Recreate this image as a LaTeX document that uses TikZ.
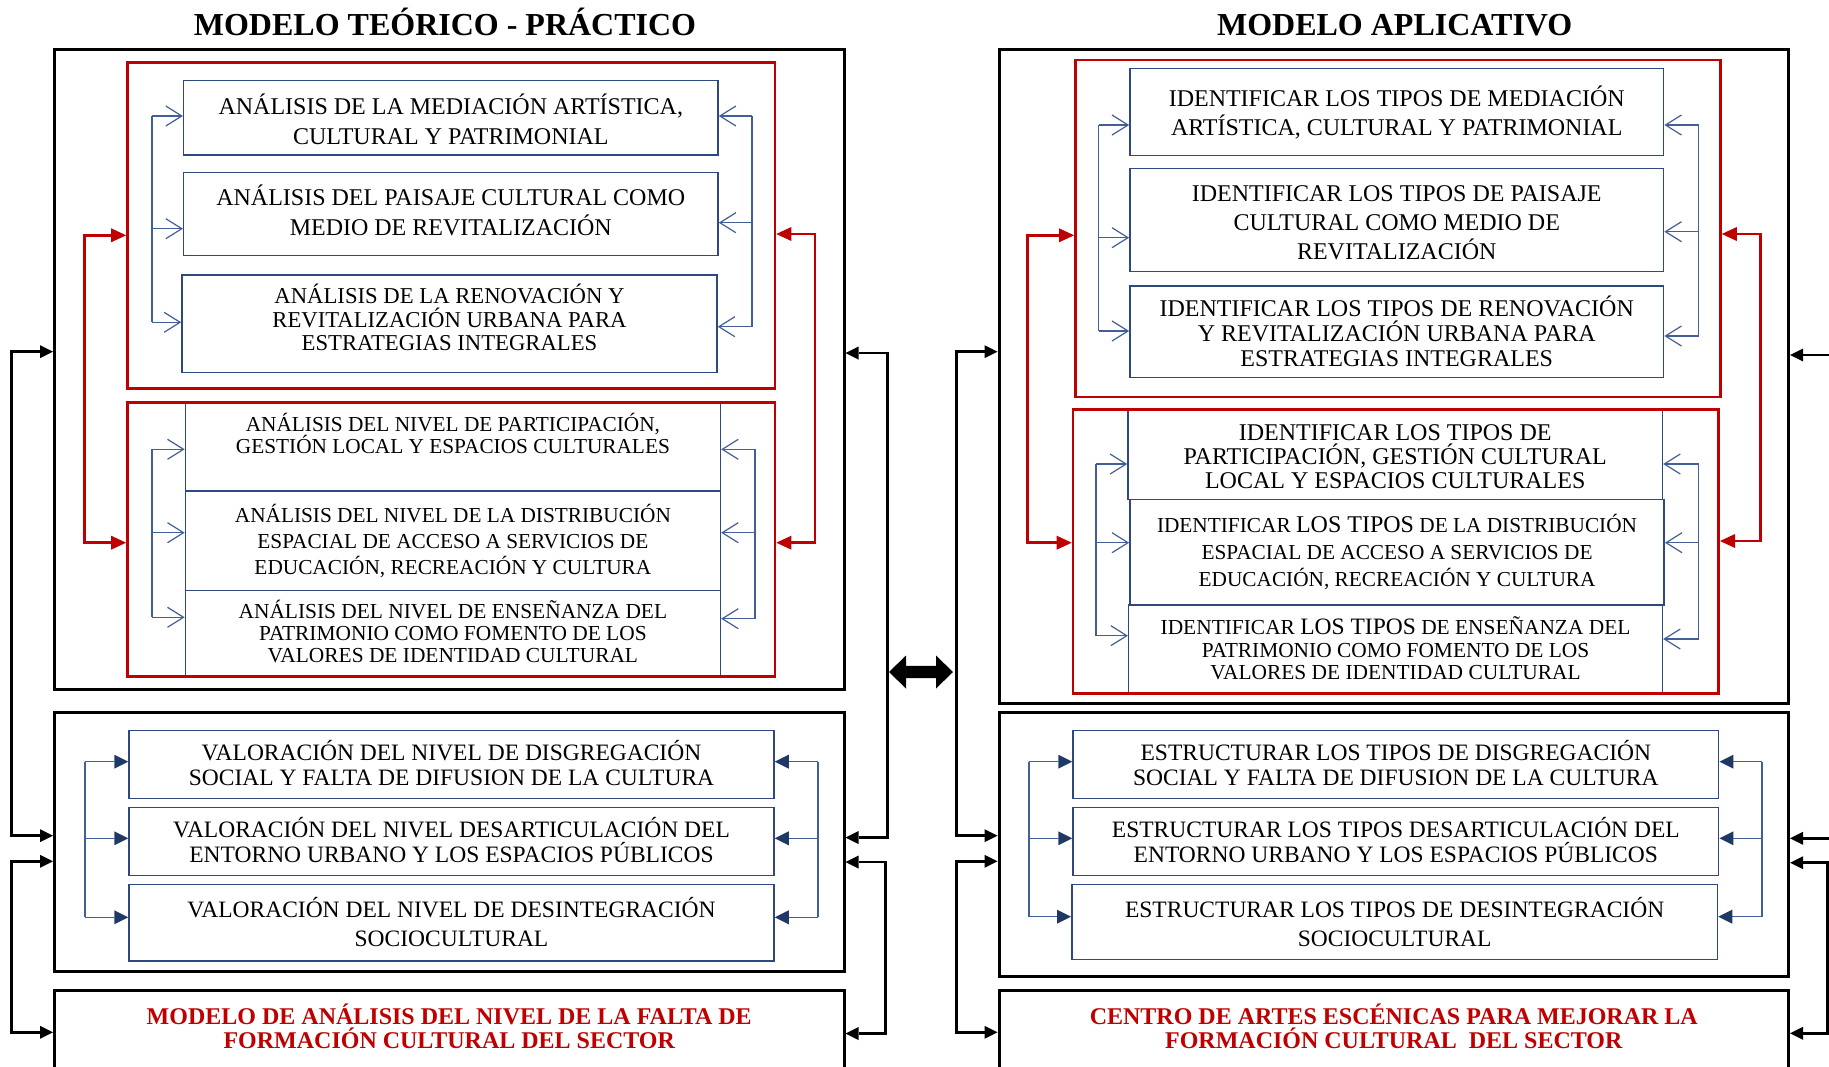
\documentclass[tikz,border=0pt]{standalone}
\usepackage{fontspec}
\setmainfont{Liberation Serif}
\usetikzlibrary{arrows.meta}
\definecolor{myred}{RGB}{192,0,0}
\definecolor{navy}{RGB}{31,56,100}
\definecolor{boxblue}{RGB}{47,72,128}
\definecolor{busblue}{RGB}{68,95,152}
\newcommand\myfs[2]{\fontsize{#1}{#2}\selectfont}
\begin{document}
\begin{tikzpicture}[x=1pt,y=-1pt,
  obox/.style={draw=black,line width=3pt,inner sep=0pt},
  rbox/.style={draw=myred,line width=2.6pt,inner sep=0pt},
  bbox/.style={draw=boxblue,line width=1.5pt,inner sep=0pt},
  txt/.style={inner sep=0pt,align=center},
  bus/.style={draw=busblue,line width=1.2pt},
  oarr/.style={draw=busblue,line width=1.2pt,-{Straight Barb[length=16pt,width=20pt]}},
  farr/.style={draw=busblue,line width=1.2pt,-{Triangle[length=14pt,width=14pt,line width=0pt,color=navy]}},
  rcon/.style={draw=myred,line width=2.6pt,{Triangle[length=15pt,width=14pt,line width=0pt]}-{Triangle[length=15pt,width=14pt,line width=0pt]}},
  kcon/.style={draw=black,line width=2.7pt,{Triangle[length=13pt,width=13pt,line width=0pt]}-{Triangle[length=13pt,width=13pt,line width=0pt]}},
]
\useasboundingbox (0,0) rectangle (1829,1066);
\fill[white] (0,0) rectangle (1829,1066);
\clip (0,0) rectangle (1829,1066);

% ---------------- titles
\node[txt,font=\bfseries\myfs{32}{36}] (T1) at (445,21.7) {MODELO TEÓRICO - PRÁCTICO};
\node[txt,font=\bfseries\myfs{32}{36}] (T2) at (1394.7,25.5) {MODELO APLICATIVO};

% ================= LEFT PANEL
\node[obox,minimum width=789.5pt,minimum height=639.7pt] (OB1) at (449.25,369.15) {};
\node[obox,minimum width=789.5pt,minimum height=259pt] (OB2) at (449.25,842.2) {};
\node[obox,minimum width=789.5pt,minimum height=80pt] (OB3) at (449.25,1030) {};

\node[bbox,minimum width=534.3pt,minimum height=74.3pt] (A1) at (450.85,117.85) {};
\node[bbox,minimum width=534.3pt,minimum height=82.6pt] (A2) at (450.85,214) {};
\node[bbox,minimum width=535pt,minimum height=97.7pt] (A3) at (449.5,323.85) {};
\node[bbox,minimum width=535pt,minimum height=88pt] (B1) at (452.9,447) {};
\node[bbox,minimum width=535pt,minimum height=99.7pt] (B2) at (452.9,540.85) {};
\node[bbox,minimum width=535pt,minimum height=86pt] (B3) at (452.9,633.7) {};
\node[rbox,minimum width=647.6pt,minimum height=326pt] (RB1) at (451.2,225.3) {};
\node[rbox,minimum width=647.6pt,minimum height=274pt] (RB2) at (451.2,539.7) {};
\node[bbox,minimum width=645pt,minimum height=68pt] (C1) at (451.5,764.3) {};
\node[bbox,minimum width=645pt,minimum height=68pt] (C2) at (451.5,841.7) {};
\node[bbox,minimum width=645pt,minimum height=76.7pt] (C3) at (451.5,922.65) {};

\node[txt,font=\myfs{24}{30}] (A1t) at (450.8,119) {ANÁLISIS DE LA MEDIACIÓN ARTÍSTICA,\\CULTURAL Y PATRIMONIAL};
\node[txt,font=\myfs{24}{30}] (A2t) at (450.8,210.6) {ANÁLISIS DEL PAISAJE CULTURAL COMO\\MEDIO DE REVITALIZACIÓN};
\node[txt,font=\myfs{22.7}{23.3}] (A3t) at (449.5,317.4) {ANÁLISIS DE LA RENOVACIÓN Y\\REVITALIZACIÓN URBANA PARA\\ESTRATEGIAS INTEGRALES};
\node[txt,font=\myfs{21.3}{21.7}] (B1t) at (452.9,433.4) {ANÁLISIS DEL NIVEL DE PARTICIPACIÓN,\\GESTIÓN LOCAL Y ESPACIOS CULTURALES};
\node[txt,font=\myfs{21.3}{26.1}] (B2t) at (452.9,541) {ANÁLISIS DEL NIVEL DE LA DISTRIBUCIÓN\\ESPACIAL DE ACCESO A SERVICIOS DE\\EDUCACIÓN, RECREACIÓN Y CULTURA};
\node[txt,font=\myfs{21.4}{21.9}] (B3t) at (452.9,631.6) {ANÁLISIS DEL NIVEL DE ENSEÑANZA DEL\\PATRIMONIO COMO FOMENTO DE LOS\\VALORES DE IDENTIDAD CULTURAL};
\node[txt,font=\myfs{23.5}{25}] (C1t) at (451.5,763.1) {VALORACIÓN DEL NIVEL DE DISGREGACIÓN\\SOCIAL Y FALTA DE DIFUSION DE LA CULTURA};
\node[txt,font=\myfs{23.5}{25}] (C2t) at (451.5,839.8) {VALORACIÓN DEL NIVEL DESARTICULACIÓN DEL\\ENTORNO URBANO Y LOS ESPACIOS PÚBLICOS};
\node[txt,font=\myfs{23.5}{29.3}] (C3t) at (451.5,922) {VALORACIÓN DEL NIVEL DE DESINTEGRACIÓN\\SOCIOCULTURAL};
\node[txt,font=\bfseries\myfs{24}{24},text=myred] (M1) at (449.25,1026) {MODELO DE ANÁLISIS DEL NIVEL DE LA FALTA DE\\FORMACIÓN CULTURAL DEL SECTOR};

% blue buses, left panel
\coordinate (aL1) at (152,116); \coordinate (aL2) at (152,228.7); \coordinate (aL3) at (152,322.3);
\coordinate (aR1) at (752,116); \coordinate (aR2) at (752,222.7); \coordinate (aR3) at (752,326.7);
\draw[bus] (aL1) -- (aL3); \draw[bus] (aR1) -- (aR3);
\foreach \i in {1,2,3} {\draw[oarr] (aL\i) -- (aL\i -| A\i.west); \draw[oarr] (aR\i) -- (aR\i -| A\i.east);}
\coordinate (bL1) at (152,449.3); \coordinate (bL2) at (152,532.7); \coordinate (bL3) at (152,617.3);
\coordinate (bR1) at (755,449.3); \coordinate (bR2) at (755,532.7); \coordinate (bR3) at (755,618.7);
\draw[bus] (bL1) -- (bL3); \draw[bus] (bR1) -- (bR3);
\foreach \i in {1,2,3} {\draw[oarr] (bL\i) -- (bL\i -| B\i.west); \draw[oarr] (bR\i) -- (bR\i -| B\i.east);}
\coordinate (cL1) at (85,761.7); \coordinate (cL2) at (85,838.3); \coordinate (cL3) at (85,917.3);
\coordinate (cR1) at (818,761.7); \coordinate (cR2) at (818,838.3); \coordinate (cR3) at (818,917.3);
\draw[bus] (cL1) -- (cL3); \draw[bus] (cR1) -- (cR3);
\foreach \i in {1,2,3} {\draw[farr] (cL\i) -- (cL\i -| C\i.west); \draw[farr] (cR\i) -- (cR\i -| C\i.east);}

% red connectors, left panel
\coordinate (rL1) at (84.4,235.3); \coordinate (rL2) at (84.4,542.7);
\coordinate (rR1) at (815,234); \coordinate (rR2) at (815,542.7);
\draw[rcon] (rL1 -| RB1.west) -- (rL1) -- (rL2) -- (rL2 -| RB2.west);
\draw[rcon] (rR1 -| RB1.east) -- (rR1) -- (rR2) -- (rR2 -| RB2.east);

% ================= RIGHT PANEL
\node[obox,minimum width=789.6pt,minimum height=653.7pt] (OB1R) at (1393.8,376.15) {};
\node[obox,minimum width=789.6pt,minimum height=263.3pt] (OB2R) at (1393.8,844.35) {};
\node[obox,minimum width=789.6pt,minimum height=80pt] (OB3R) at (1393.8,1030) {};

\node[bbox,minimum width=533.7pt,minimum height=87.4pt] (D1) at (1396.75,112) {};
\node[bbox,minimum width=533.7pt,minimum height=103.4pt] (D2) at (1396.75,220) {};
\node[bbox,minimum width=533.7pt,minimum height=91.7pt] (D3) at (1396.75,331.85) {};
\node[bbox,minimum width=534.4pt,minimum height=89.3pt] (E1) at (1395.2,454.65) {};
\node[bbox,minimum width=534.3pt,minimum height=105.7pt] (E2) at (1397.05,552.15) {};
\node[bbox,minimum width=533.7pt,minimum height=88.3pt] (E3) at (1395.55,649.15) {};
\node[rbox,minimum width=645.1pt,minimum height=337pt] (RR1) at (1397.95,228.5) {};
\node[rbox,minimum width=645.7pt,minimum height=284pt] (RR2) at (1395.85,551.3) {};
\node[bbox,minimum width=645.7pt,minimum height=68pt] (F1) at (1395.85,764.3) {};
\node[bbox,minimum width=645.7pt,minimum height=68pt] (F2) at (1395.85,841.7) {};
\node[bbox,minimum width=645.7pt,minimum height=75pt] (F3) at (1394.65,921.8) {};

\node[txt,font=\myfs{24}{29}] (D1t) at (1396.75,112.2) {IDENTIFICAR LOS TIPOS DE MEDIACIÓN\\ARTÍSTICA, CULTURAL Y PATRIMONIAL};
\node[txt,font=\myfs{24}{29.2}] (D2t) at (1396.75,222.5) {IDENTIFICAR LOS TIPOS DE PAISAJE\\CULTURAL COMO MEDIO DE\\REVITALIZACIÓN};
\node[txt,font=\myfs{24}{25}] (D3t) at (1396.75,331.6) {IDENTIFICAR LOS TIPOS DE RENOVACIÓN\\Y REVITALIZACIÓN URBANA PARA\\ESTRATEGIAS INTEGRALES};
\node[txt,font=\myfs{24}{24.2}] (E1t) at (1395.2,456.8) {IDENTIFICAR LOS TIPOS DE\\PARTICIPACIÓN, GESTIÓN CULTURAL\\LOCAL Y ESPACIOS CULTURALES};
\node[txt,font=\myfs{21.3}{27}] (E2t) at (1397.05,552) {IDENTIFICAR {\myfs{24}{27}LOS TIPOS} DE LA DISTRIBUCIÓN\\ESPACIAL DE ACCESO A SERVICIOS DE\\EDUCACIÓN, RECREACIÓN Y CULTURA};
\node[txt,font=\myfs{21.4}{22.6}] (E3t) at (1395.55,648.4) {IDENTIFICAR {\myfs{23.5}{22.6}LOS TIPOS} DE ENSEÑANZA DEL\\PATRIMONIO COMO FOMENTO DE LOS\\VALORES DE IDENTIDAD CULTURAL};
\node[txt,font=\myfs{23.5}{25}] (F1t) at (1395.85,763.1) {ESTRUCTURAR LOS TIPOS DE DISGREGACIÓN\\SOCIAL Y FALTA DE DIFUSION DE LA CULTURA};
\node[txt,font=\myfs{23.5}{25}] (F2t) at (1395.85,839.8) {ESTRUCTURAR LOS TIPOS DESARTICULACIÓN DEL\\ENTORNO URBANO Y LOS ESPACIOS PÚBLICOS};
\node[txt,font=\myfs{23.5}{29.3}] (F3t) at (1394.65,922) {ESTRUCTURAR LOS TIPOS DE DESINTEGRACIÓN\\SOCIOCULTURAL};
\node[txt,font=\bfseries\myfs{24}{24},text=myred] (M2) at (1393.8,1026) {CENTRO DE ARTES ESCÉNICAS PARA MEJORAR LA\\FORMACIÓN CULTURAL\ \ DEL SECTOR};

% blue buses, right panel
\coordinate (dL1) at (1098.5,125); \coordinate (dL2) at (1098.5,237.7); \coordinate (dL3) at (1098.5,331);
\coordinate (dR1) at (1698.6,125); \coordinate (dR2) at (1698.6,231.7); \coordinate (dR3) at (1698.6,336);
\draw[bus] (dL1) -- (dL3); \draw[bus] (dR1) -- (dR3);
\foreach \i in {1,2,3} {\draw[oarr] (dL\i) -- (dL\i -| D\i.west); \draw[oarr] (dR\i) -- (dR\i -| D\i.east);}
\coordinate (eL1) at (1096,464); \coordinate (eL2) at (1096,542.7); \coordinate (eL3) at (1096,635.7);
\coordinate (eR1) at (1698.6,464); \coordinate (eR2) at (1698.6,542.7); \coordinate (eR3) at (1698.6,639);
\draw[bus] (eL1) -- (eL3); \draw[bus] (eR1) -- (eR3);
\foreach \i in {1,2,3} {\draw[oarr] (eL\i) -- (eL\i -| E\i.west); \draw[oarr] (eR\i) -- (eR\i -| E\i.east);}
\coordinate (fL1) at (1029,761.7); \coordinate (fL2) at (1029,838.3); \coordinate (fL3) at (1029,916.7);
\coordinate (fR1) at (1762,761.7); \coordinate (fR2) at (1762,838.3); \coordinate (fR3) at (1762,916.7);
\draw[bus] (fL1) -- (fL3); \draw[bus] (fR1) -- (fR3);
\foreach \i in {1,2,3} {\draw[farr] (fL\i) -- (fL\i -| F\i.west); \draw[farr] (fR\i) -- (fR\i -| F\i.east);}

% red connectors, right panel
\coordinate (sL1) at (1027.4,235.3); \coordinate (sL2) at (1027.4,542.7);
\coordinate (sR1) at (1760.2,234); \coordinate (sR2) at (1760.2,541);
\draw[rcon] (sL1 -| RR1.west) -- (sL1) -- (sL2) -- (sL2 -| RR2.west);
\draw[rcon] (sR1 -| RR1.east) -- (sR1) -- (sR2) -- (sR2 -| RR2.east);

% ================= black connectors
\coordinate (k1a) at (11.5,351.7); \coordinate (k1b) at (11.5,835.7);
\coordinate (k2a) at (11.5,861.3); \coordinate (k2b) at (11.5,1032.3);
\draw[kcon] (k1a -| OB1.west) -- (k1a) -- (k1b) -- (k1b -| OB2.west);
\draw[kcon] (k2a -| OB2.west) -- (k2a) -- (k2b) -- (k2b -| OB3.west);
\coordinate (k3a) at (887.7,353); \coordinate (k3b) at (887.7,837.6);
\coordinate (k4a) at (885.7,862); \coordinate (k4b) at (885.7,1033.5);
\draw[kcon] (k3a -| OB1.east) -- (k3a) -- (k3b) -- (k3b -| OB2.east);
\draw[kcon] (k4a -| OB2.east) -- (k4a) -- (k4b) -- (k4b -| OB3.east);
\coordinate (k5a) at (956.3,351.7); \coordinate (k5b) at (956.3,835.7);
\coordinate (k6a) at (956.3,861.3); \coordinate (k6b) at (956.3,1032.3);
\draw[kcon] (k5a -| OB1R.west) -- (k5a) -- (k5b) -- (k5b -| OB2R.west);
\draw[kcon] (k6a -| OB2R.west) -- (k6a) -- (k6b) -- (k6b -| OB3R.west);
\coordinate (k7a) at (1836,355); \coordinate (k7b) at (1836,838.3);
\coordinate (k8a) at (1827.6,862.7); \coordinate (k8b) at (1827.6,1033.3);
\draw[kcon] (k7a -| OB1R.east) -- (k7a) -- (k7b) -- (k7b -| OB2R.east);
\draw[kcon] (k8a -| OB2R.east) -- (k8a) -- (k8b) -- (k8b -| OB3R.east);

% ================= central double arrow
\coordinate (dblL) at (889,672); \coordinate (dblR) at (953,672);
\fill[black] (dblL) -- ++(17,-16.5) -- ++(0,10.3) -- ++(30,0) -- ++(0,-10.3) -- (dblR)
  -- ++(-17,16.5) -- ++(0,-10.3) -- ++(-30,0) -- ++(0,10.3) -- cycle;
\end{tikzpicture}
\end{document}
